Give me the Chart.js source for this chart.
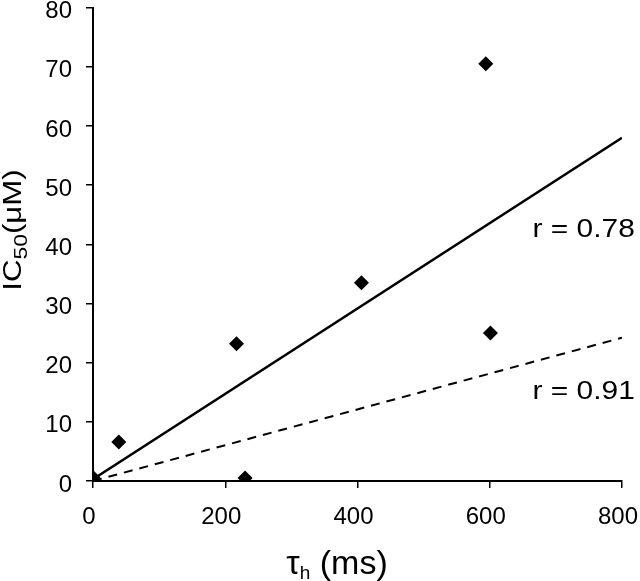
<!DOCTYPE html>
<html>
<head>
<meta charset="utf-8">
<script src="https://cdn.jsdelivr.net/npm/chart.js@4"></script>
<style>
  html, body { margin: 0; padding: 0; background: #fff; }
  #wrap { width: 640px; height: 581px; }
</style>
</head>
<body>
<div id="wrap"><canvas id="ic50Chart" width="640" height="581"></canvas></div>
<script>
// tau_h (ms) vs IC50 (uM)
const tauH = [0, 39, 217, 230, 406, 594, 601];
const ic50 = [0.6, 6.6, 23.2, 0.5, 33.5, 70.5, 25];

// regression lines (end points)
const fitSolidX = [0, 800];
const fitSolidY = [0.3, 58];
const fitDashX = [0, 800];
const fitDashY = [0, 24.2];

const xTicks = [0, 200, 400, 600, 800];
const yTicks = [0, 10, 20, 30, 40, 50, 60, 70, 80];

// r labels: [text, x, y]
const rLabels = [
    ['r = 0.78', 742, 42.4],
    ['r = 0.91', 742, 15]
];

const FONT = 'Liberation Sans, Arial, sans-serif';

function toPoints(xs, ys) {
    return xs.map((x, i) => ({ x: x, y: ys[i] }));
}

// draw a run of [text, size, baseline shift] pieces starting at x
function drawRuns(ctx, runs, x, y) {
    runs.forEach(r => {
        ctx.font = r[1] + 'px ' + FONT;
        ctx.fillText(r[0], x, y + r[2]);
        x += ctx.measureText(r[0]).width;
    });
}

function runsWidth(ctx, runs) {
    let w = 0;
    runs.forEach(r => {
        ctx.font = r[1] + 'px ' + FONT;
        w += ctx.measureText(r[0]).width;
    });
    return w;
}

// r labels and axis titles with real subscripts
const textPlugin = {
    id: 'textBits',
    afterDatasetsDraw(chart) {
        const ctx = chart.ctx;
        const xs = chart.scales.x, ys = chart.scales.y;
        ctx.save();
        ctx.fillStyle = '#000';
        ctx.font = '26px ' + FONT;
        ctx.textAlign = 'center';
        ctx.textBaseline = 'middle';
        rLabels.forEach(l => {
            ctx.save();
            ctx.translate(xs.getPixelForValue(l[1]), ys.getPixelForValue(l[2]));
            ctx.scale(1.15, 1);
            ctx.fillText(l[0], 0, 0);
            ctx.restore();
        });

        ctx.textAlign = 'left';
        ctx.textBaseline = 'alphabetic';

        // x title
        const xRuns = [['τ', 34, 0], ['h', 19, 5], [' (ms)', 34, 0]];
        const xw = runsWidth(ctx, xRuns);
        drawRuns(ctx, xRuns, 337 - xw / 2, 574);

        // y title, rotated and a little stretched like the scan
        const yRuns = [['IC', 26, 0], ['50', 19, 6], ['(μM)', 26, 0]];
        const yw = runsWidth(ctx, yRuns);
        ctx.translate(21, 230);
        ctx.rotate(-Math.PI / 2);
        ctx.scale(1.2, 1);
        drawRuns(ctx, yRuns, -yw / 2, 0);
        ctx.restore();
    }
};

document.addEventListener('DOMContentLoaded', function() {
    const ctx = document.getElementById('ic50Chart').getContext('2d');
    new Chart(ctx, {
        type: 'scatter',
        data: {
            datasets: [{
                label: 'data',
                data: toPoints(tauH, ic50),
                pointStyle: 'rectRot',
                pointRadius: 7.5,
                backgroundColor: '#000',
                borderColor: '#000',
                borderWidth: 0
            }, {
                label: 'fit r=0.78',
                data: toPoints(fitSolidX, fitSolidY),
                showLine: true,
                pointRadius: 0,
                borderColor: '#000',
                borderWidth: 2.5
            }, {
                label: 'fit r=0.91',
                data: toPoints(fitDashX, fitDashY),
                showLine: true,
                pointRadius: 0,
                borderColor: '#000',
                borderWidth: 2,
                borderDash: [9, 7]
            }]
        },
        options: {
            responsive: false,
            animation: false,
            layout: { padding: { top: 6, right: 18, left: 0, bottom: 0 } },
            plugins: {
                legend: { display: false },
                tooltip: { enabled: false }
            },
            scales: {
                x: {
                    type: 'linear',
                    min: 0,
                    max: 800,
                    afterBuildTicks: s => { s.ticks = xTicks.map(v => ({ value: v })); },
                    afterFit: s => { s.height = 100; s.paddingLeft = 0; s.paddingRight = 0; },
                    border: { display: true, color: '#000', width: 2 },
                    grid: { drawOnChartArea: false, drawTicks: true, tickLength: 7, color: '#000', lineWidth: 1.5 },
                    ticks: { color: '#000', font: { family: FONT, size: 24 }, padding: 15, labelOffset: -4, maxRotation: 0 }
                },
                y: {
                    type: 'linear',
                    min: 0,
                    max: 80,
                    afterBuildTicks: s => { s.ticks = yTicks.map(v => ({ value: v })); },
                    afterFit: s => { s.width = 93; s.paddingTop = 0; s.paddingBottom = 0; },
                    border: { display: true, color: '#000', width: 2 },
                    grid: { drawOnChartArea: false, drawTicks: true, tickLength: 7, color: '#000', lineWidth: 1.5 },
                    ticks: { color: '#000', font: { family: FONT, size: 24 }, padding: 14, labelOffset: 4 }
                }
            }
        },
        plugins: [textPlugin]
    });
});
</script>
</body>
</html>
